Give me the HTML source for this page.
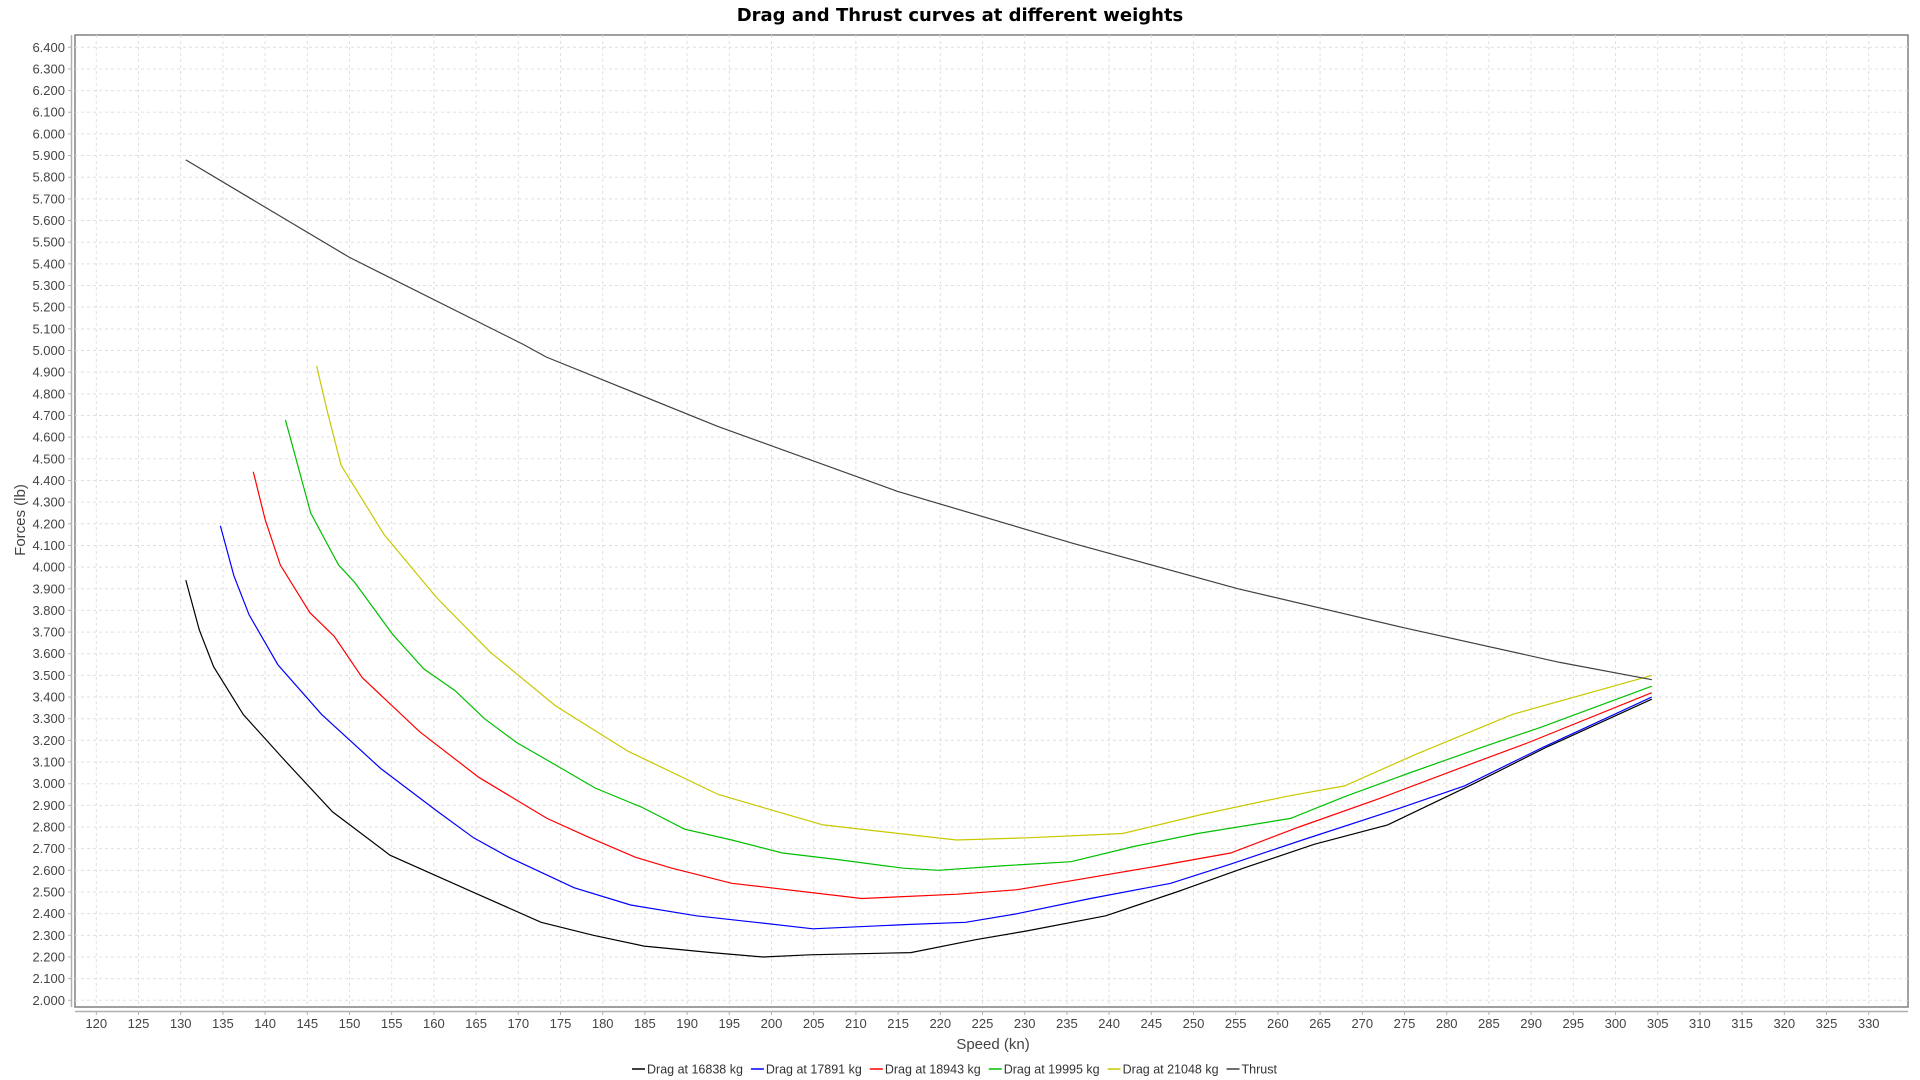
<!DOCTYPE html>
<html><head><meta charset="utf-8"><style>
body{margin:0;background:#fff;width:1920px;height:1080px;overflow:hidden;font-family:"Liberation Sans",sans-serif}
svg{position:absolute;left:0;top:0}
</style></head><body>
<svg id="chart" width="1920" height="1080" xmlns="http://www.w3.org/2000/svg">
<text x="960" y="21" text-anchor="middle" font-size="18" font-weight="bold" fill="#000" font-family="DejaVu Sans, Liberation Sans, sans-serif">Drag and Thrust curves at different weights</text>
<rect x="75" y="35" width="1833" height="972" fill="#fff" stroke="#808080" stroke-width="1.5"/>
<g id="grid"></g>
<g id="axes"></g>
<g id="series"></g>
<text x="993" y="1049" text-anchor="middle" font-size="15" fill="#444">Speed (kn)</text>
<text transform="translate(25,520) rotate(-90)" text-anchor="middle" font-size="15" fill="#444">Forces (lb)</text>
<g id="legend"></g>
</svg>
<script>
const seriesNames=["Drag at 16838 kg","Drag at 17891 kg","Drag at 18943 kg","Drag at 19995 kg","Drag at 21048 kg","Thrust"];
const seriesColors=["#000000","#0000ff","#ff0000","#00c000","#c8c800","#404040"];
const drag16838=[[130.6,3.94],[132.2,3.71],[133.9,3.54],[137.4,3.32],[142.5,3.10],[148,2.87],[154.8,2.67],[164,2.51],[172.7,2.36],[178.9,2.30],[184.9,2.25],[192.9,2.22],[199,2.20],[204.5,2.21],[216.5,2.22],[224.2,2.28],[230.2,2.32],[239.6,2.39],[248,2.50],[255.9,2.61],[264.3,2.72],[273,2.81],[283.2,3.00],[291.9,3.17],[304.3,3.39]];
const drag17891=[[134.7,4.19],[136.3,3.96],[138.1,3.78],[141.5,3.55],[146.7,3.32],[153.7,3.07],[160.5,2.87],[164.7,2.75],[168.9,2.66],[176.6,2.52],[183.3,2.44],[191.1,2.39],[198.1,2.36],[204.9,2.33],[216.1,2.35],[223,2.36],[229.1,2.40],[237.8,2.47],[247.3,2.54],[254.5,2.63],[262.9,2.74],[273.9,2.88],[282.1,2.99],[291.5,3.17],[304.3,3.40]];
const drag18943=[[138.6,4.44],[140,4.22],[141.8,4.01],[145.3,3.79],[148.2,3.68],[151.5,3.49],[158.3,3.24],[165.3,3.03],[173.4,2.84],[178.5,2.75],[183.9,2.66],[188.2,2.61],[195.3,2.54],[199.8,2.52],[210.7,2.47],[222,2.49],[229,2.51],[235.2,2.55],[245.8,2.62],[254.4,2.68],[262.5,2.80],[271.9,2.93],[282.1,3.08],[289.7,3.19],[304.3,3.42]];
const drag19995=[[142.4,4.68],[145.4,4.25],[148.7,4.01],[150.6,3.93],[155.1,3.69],[158.8,3.53],[162.5,3.43],[166,3.30],[169.8,3.19],[174.7,3.08],[179.1,2.98],[184.7,2.89],[189.7,2.79],[195.3,2.74],[201.3,2.68],[207.8,2.65],[215.6,2.61],[219.8,2.60],[227,2.62],[235.5,2.64],[242.9,2.71],[250.5,2.77],[261.5,2.84],[267.9,2.94],[274.9,3.04],[284.3,3.17],[291.1,3.26],[304.3,3.45]];
const drag21048=[[146.1,4.93],[147.3,4.73],[149,4.47],[154.1,4.15],[160.3,3.86],[166.6,3.61],[174.4,3.36],[183,3.15],[193.7,2.95],[206.1,2.81],[221.9,2.74],[230.3,2.75],[241.6,2.77],[251.2,2.86],[260.8,2.94],[267.9,2.99],[276.6,3.14],[287.8,3.32],[304.3,3.50]];
const thrust=[[130.6,5.88],[150,5.43],[170.5,5.03],[173.3,4.97],[193.6,4.65],[214.9,4.35],[235.7,4.11],[255.3,3.90],[274.9,3.72],[293.4,3.56],[304.3,3.48]];
const xTicks=[120,125,130,135,140,145,150,155,160,165,170,175,180,185,190,195,200,205,210,215,220,225,230,235,240,245,250,255,260,265,270,275,280,285,290,295,300,305,310,315,320,325,330];
const yTicks=[2.0,2.1,2.2,2.3,2.4,2.5,2.6,2.7,2.8,2.9,3.0,3.1,3.2,3.3,3.4,3.5,3.6,3.7,3.8,3.9,4.0,4.1,4.2,4.3,4.4,4.5,4.6,4.7,4.8,4.9,5.0,5.1,5.2,5.3,5.4,5.5,5.6,5.7,5.8,5.9,6.0,6.1,6.2,6.3,6.4];
const allSeries=[drag16838,drag17891,drag18943,drag19995,drag21048,thrust];

const NS="http://www.w3.org/2000/svg";
function xs(v){return 96.3+(v-120)*8.44;}
function ys(v){return 1000.3-(v-2)*216.6;}
function mk(tag,attrs,parent){const e=document.createElementNS(NS,tag);for(const k in attrs)e.setAttribute(k,attrs[k]);parent.appendChild(e);return e;}
const grid=document.getElementById('grid'),axes=document.getElementById('axes'),ser=document.getElementById('series'),leg=document.getElementById('legend');
const ya=mk('line',{x1:71.5,y1:35,x2:71.5,y2:1007,stroke:'#b0b0b0','stroke-width':1.5},axes);

const xa=mk('line',{x1:75,y1:1011.5,x2:1908,y2:1011.5,stroke:'#b0b0b0','stroke-width':1.5},axes);

xTicks.forEach(t=>{const x=xs(t);
 const g=mk('line',{x1:x,y1:35,x2:x,y2:1007,stroke:'#e0e0e0','stroke-dasharray':'3,3','stroke-width':1},grid);
 
 
 mk('line',{x1:x,y1:1011.5,x2:x,y2:1015,stroke:'#b0b0b0'},axes);
 const l=mk('text',{x:x,y:1028,'text-anchor':'middle','font-size':13,fill:'#444'},axes);l.textContent=t;
 
 
});
yTicks.forEach(t=>{const y=ys(t);
 const g=mk('line',{x1:75,y1:y,x2:1908,y2:y,stroke:'#e0e0e0','stroke-dasharray':'3,3','stroke-width':1},grid);
 
 
 mk('line',{x1:68,y1:y,x2:71.5,y2:y,stroke:'#b0b0b0'},axes);
 const l=mk('text',{x:65,y:y+4.5,'text-anchor':'end','font-size':13,fill:'#444'},axes);l.textContent=t.toFixed(3);
 
 
});
allSeries.forEach((s,i)=>{
 const p=mk('polyline',{points:s.map(d=>xs(d[0]).toFixed(1)+','+ys(d[1]).toFixed(1)).join(' '),fill:'none',stroke:seriesColors[i],'stroke-width':1.2},ser);
 
 
});
let lx=632;
seriesNames.forEach((n,i)=>{
 const g=mk('g',{},leg);
 
 
 mk('line',{x1:lx,y1:1069,x2:lx+13,y2:1069,stroke:seriesColors[i],'stroke-width':1.5},g);
 const t=mk('text',{x:lx+15,y:1073.5,'font-size':12.5,fill:'#333'},g);t.textContent=n;
 lx+=15+t.getComputedTextLength()+8;
});
</script>
</body></html>
